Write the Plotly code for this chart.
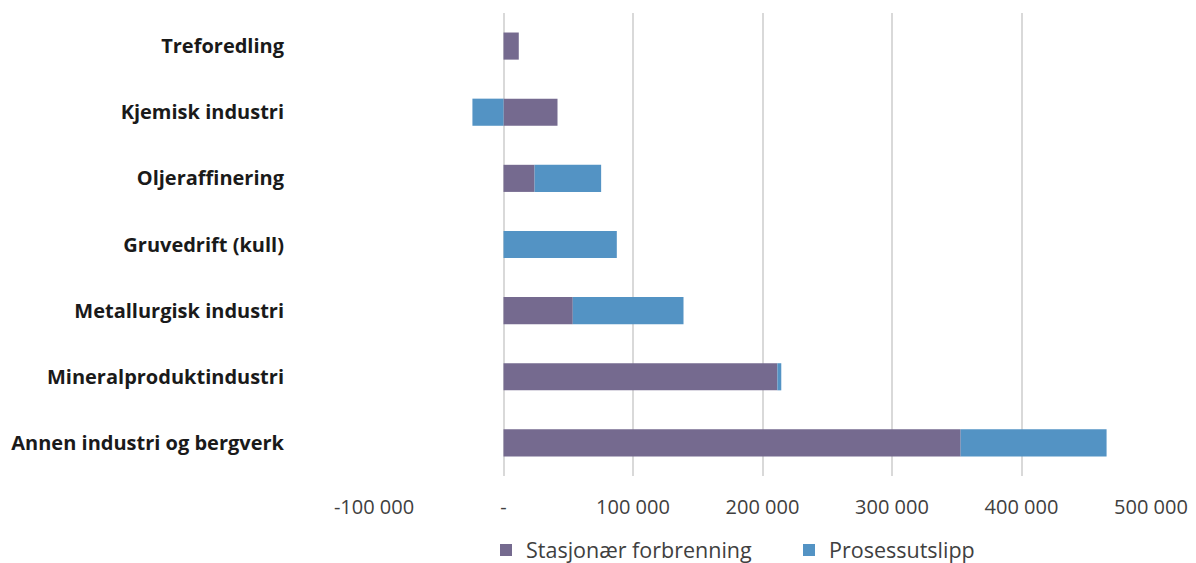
import plotly.graph_objects as go

# Emissions by industry branch (tonnes CO2-eq), split by source
categories = [
    "Annen industri og bergverk",
    "Mineralproduktindustri",
    "Metallurgisk industri",
    "Gruvedrift (kull)",
    "Oljeraffinering",
    "Kjemisk industri",
    "Treforedling",
]
stasjonaer = [353000, 211500, 53500, 0, 24000, 41700, 11800]
prosess = [112700, 3000, 85500, 87500, 51400, -24000, 0]

tick_vals = [-100000, 0, 100000, 200000, 300000, 400000, 500000]
tick_text = ["-100 000", "-", "100 000", "200 000", "300 000", "400 000", "500 000"]

FONT = "'Open Sans', Lato, sans-serif"

fig = go.Figure()
fig.add_trace(go.Bar(
    y=categories, x=stasjonaer, orientation="h",
    name="Stasjonær forbrenning",
    marker=dict(color="#756a8f", line=dict(width=0)),
))
fig.add_trace(go.Bar(
    y=categories, x=prosess, orientation="h",
    name="Prosessutslipp",
    marker=dict(color="#5393c4", line=dict(width=0)),
))

fig.update_layout(
    barmode="relative",
    bargap=0.59,
    width=1196, height=563,
    margin=dict(l=374, r=45, t=13, b=87, autoexpand=False),
    paper_bgcolor="white", plot_bgcolor="white",
    font=dict(family=FONT, size=20, color="#262626"),
    showlegend=True,
    legend=dict(
        orientation="h",
        xref="container", x=486 / 1196, xanchor="left",
        yref="container", y=0.023, yanchor="middle",
        font=dict(size=21.5, color="#404040"), traceorder="normal",
        itemwidth=30, entrywidth=258, entrywidthmode="pixels",
    ),
    xaxis=dict(
        range=[-100000, 500000],
        tickvals=tick_vals, ticktext=tick_text,
        showgrid=True, gridcolor="#d9d9d9", gridwidth=1.5,
        zeroline=True, zerolinecolor="#d9d9d9", zerolinewidth=1.5,
        showline=False, ticks="", ticklabelstandoff=17,
        tickfont=dict(size=20, color="#404040"),
    ),
    yaxis=dict(
        categoryorder="array", categoryarray=categories,
        showgrid=False, zeroline=False, showline=False, ticks="",
        ticklabelstandoff=89,
        tickfont=dict(size=20, color="#1a1a1a", weight="bold"),
    ),
)

fig.write_html("out.html")
